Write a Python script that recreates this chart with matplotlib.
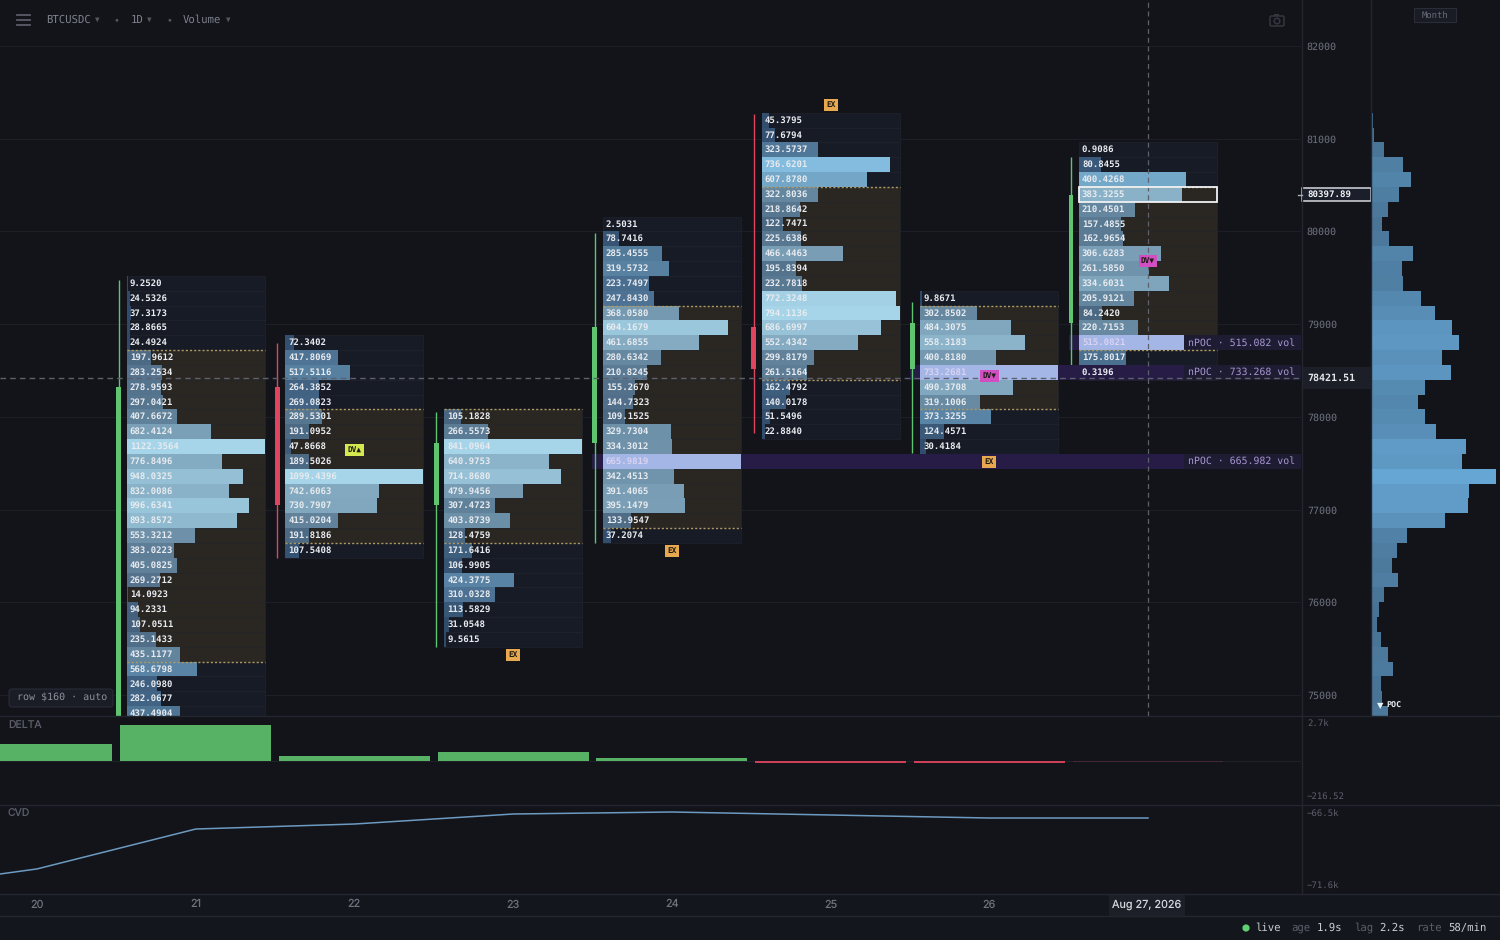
import numpy as np
import matplotlib
matplotlib.use("Agg")
import matplotlib.pyplot as plt
from matplotlib.patches import Rectangle, FancyBboxPatch, Circle
from matplotlib.transforms import blended_transform_factory

plt.rcParams["text.hinting"] = "no_hinting"

W, H = 1500, 940
MONO = "DejaVu Sans Mono"
SANS = "Inter"

BG = "#12141a"
LINE = "#23262f"
GRID = "#1c1f27"
TICK = "#6e727e"
DIM = "#5c5f6b"
GREEN = "#5fc46f"
RED = "#e0455f"

ROW = 160
DAY_WIDTH = 0.87

days = [21, 22, 23, 24, 25, 26, 27]
top_price = [79440, 78800, 78000, 80080, 81200, 79280, 80880]
# first and last row of the value area per day
va_rows = [(5, 25), (5, 13), (0, 8), (6, 20), (5, 17), (1, 7), (3, 13)]

vols_21 = [9.2520, 24.5326, 37.3173, 28.8665, 24.4924, 197.9612, 283.2534, 278.9593, 297.0421, 407.6672,
           682.4124, 1122.3564, 776.8496, 948.0325, 832.0086, 996.6341, 893.8572, 553.3212, 383.0223, 405.0825,
           269.2712, 14.0923, 94.2331, 107.0511, 235.1433, 435.1177, 568.6798, 246.0980, 282.0677, 437.4904]
vols_22 = [72.3402, 417.8069, 517.5116, 264.3852, 269.0823, 289.5301, 191.0952, 47.8668, 189.5026, 1099.4396,
           742.6063, 730.7907, 415.0204, 191.8186, 107.5408]
vols_23 = [105.1828, 266.5573, 841.0964, 640.9753, 714.8680, 479.9456, 307.4723, 403.8739, 128.4759, 171.6416,
           106.9905, 424.3775, 310.0328, 113.5829, 31.0548, 9.5615]
vols_24 = [2.5031, 78.7416, 285.4555, 319.5732, 223.7497, 247.8430, 368.0580, 604.1679, 461.6855, 280.6342,
           210.8245, 155.2670, 144.7323, 109.1525, 329.7304, 334.3012, 665.9819, 342.4513, 391.4065, 395.1479,
           133.9547, 37.2074]
vols_25 = [45.3795, 77.6794, 323.5737, 736.6201, 607.8780, 322.8036, 218.8642, 122.7471, 225.6386, 466.4463,
           195.8394, 232.7818, 772.3248, 794.1136, 686.6997, 552.4342, 299.8179, 261.5164, 162.4792, 140.0178,
           51.5496, 22.8840]
vols_26 = [9.8671, 302.8502, 484.3075, 558.3183, 400.8180, 733.2681, 490.3708, 319.1006, 373.3255, 124.4571,
           30.4184]
vols_27 = [0.9086, 80.8455, 400.4268, 383.3255, 210.4501, 157.4855, 162.9654, 306.6283, 261.5850, 334.6031,
           205.9121, 84.2420, 220.7153, 515.0821, 175.8017, 0.3196]
all_vols = [vols_21, vols_22, vols_23, vols_24, vols_25, vols_26, vols_27]

# open, high, low, close
opens = [74700, 78320, 77050, 77720, 78970, 78516, 79012]
highs = [79480, 78800, 78052, 79983, 81267, 79239, 80803]
lows = [74700, 76477, 75517, 76639, 77826, 77610, 78548]
closes = [78320, 77050, 77718, 78969, 78516, 79012, 80393]

npoc_day = [24, 26, 27]
npoc_price = [77520, 78480, 78800]
npoc_vol = [665.982, 733.268, 515.082]

ex_days = [25, 24, 23, 26]
ex_prices = [81364, 76553, 75431, 77513]
dv_days = [22, 26, 27]
dv_prices = [77642, 78440, 79681]
dv_labels = ["DV▲", "DV▼", "DV▼"]

delta_days = [20, 21, 22, 23, 24, 25, 26, 27]
delta_vals = [1280, 2700, 370, 640, 220, -180, -130, -60]

cvd_days = [19, 20, 21, 22, 23, 24, 25, 26, 27]
cvd_vals = [-72.0, -70.48, -67.69, -67.34, -66.64, -66.5, -66.71, -66.92, -66.92]

month_prices = [81200 - i * ROW for i in range(41)]
month_vols = [1.5, 3, 12.7, 32, 40, 28, 17, 11, 18, 42, 31, 32, 50, 63.5, 81, 87.5, 71, 80, 54, 47, 53.5, 64.5,
              95, 91, 124.5, 98, 97, 74, 36, 26, 20.5, 27, 12.7, 8.3, 5.7, 9.7, 17, 22, 9.7, 11, 17]

price_ticks = [82000, 81000, 80000, 79000, 78000, 77000, 76000, 75000]
day_ticks = [20, 21, 22, 23, 24, 25, 26]
last_price = 80397.89
cross_price = 78421.51
cross_day = 27


def px_axes(x0, y0, x1, y1, **kw):
    a = fig.add_axes([x0 / W, 1 - y1 / H, (x1 - x0) / W, (y1 - y0) / H], **kw)
    a.set_facecolor(BG)
    for s in a.spines.values():
        s.set_visible(False)
    return a


def mix(c0, c1, t):
    return tuple((a + (b - a) * t) / 255 for a, b in zip(c0, c1))


def bar_color(ratio, in_va):
    if in_va:
        return mix((62, 88, 116), (166, 212, 232), ratio ** 1.1)
    return mix((46, 72, 104), (138, 198, 232), ratio ** 1.1)


fig = plt.figure(figsize=(W / 100, H / 100), dpi=100, facecolor=BG)

xlim = (20 - 37 / 158.71, 20 + (1301 - 37) / 158.71)
ax = px_axes(0, 0, 1301, 716)
ax.set_xlim(*xlim)
ax.set_ylim(82000 - 670 / 0.09271, 82000 + 46 / 0.09271)

delta_ax = px_axes(0, 716, 1301, 805)
cvd_ax = px_axes(0, 805, 1301, 894)
month_ax = px_axes(1371, 0, 1500, 716)
chrome = fig.add_axes([0, 0, 1, 1], zorder=10)
chrome.set_xlim(0, W)
chrome.set_ylim(H, 0)
chrome.axis("off")
chrome.patch.set_alpha(0)

# main pane
ax.set_xticks([])
ax.yaxis.tick_right()
ax.set_yticks(price_ticks)
ax.set_yticklabels([str(p) for p in price_ticks], family=MONO, fontsize=7.2, color=TICK)
ax.tick_params(axis="y", length=0, pad=4.2)
ax.grid(True, axis="y", color=GRID, lw=0.8, zorder=0)
ax.set_axisbelow(True)

bar_w = DAY_WIDTH
for day, top, vols, (va0, va1), o, h, l, c in zip(days, top_price, all_vols, va_rows, opens, highs, lows, closes):
    vols = np.array(vols)
    prices = top - np.arange(len(vols)) * ROW
    left = day - bar_w / 2
    in_va = (np.arange(len(vols)) >= va0) & (np.arange(len(vols)) <= va1)
    bg = ["#2a2723" if v else "#171b25" for v in in_va]
    ax.barh(prices, bar_w, left=left, height=ROW, color=bg, edgecolor="#23262e", lw=0.4, zorder=1)
    ratio = vols / vols.max()
    colors = [bar_color(r, v) for r, v in zip(ratio, in_va)]
    poc = int(np.argmax(vols))
    if day in npoc_day:
        colors[poc] = "#a4b6e6"
    ax.barh(prices, ratio * bar_w, left=left, height=ROW, color=colors, lw=0, zorder=3)
    for i, (p, v) in enumerate(zip(prices, vols)):
        col = "#d9d2f2" if (day in npoc_day and i == poc) else "#e8ebef"
        ax.text(left + 0.019, p, f"{v:.4f}", family=MONO, weight="bold", fontsize=6.5, color=col,
                va="center", ha="left", zorder=6, clip_on=True)
    va_top = prices[va0] + ROW / 2
    va_bot = prices[va1] - ROW / 2
    ax.plot([left, left + bar_w], [va_top, va_top], color="#b09a62", lw=1, ls=(0, (1.5, 1.5)), zorder=5)
    ax.plot([left, left + bar_w], [va_bot, va_bot], color="#b09a62", lw=1, ls=(0, (1.5, 1.5)), zorder=5)

    # candle
    col = GREEN if c >= o else RED
    cx = day - 0.485
    ax.plot([cx, cx], [l, h], color=col, lw=1, zorder=4, solid_capstyle="butt")
    ax.bar(cx, abs(c - o), 0.031, bottom=min(o, c), color=col, zorder=4)

# naked POC bands
for day, price, vol in zip(npoc_day, npoc_price, npoc_vol):
    start = day - 0.5
    end = day + bar_w / 2
    ax.barh(price, end - start - bar_w, left=start, height=ROW, color="#261c46", zorder=2)
    ax.barh(price, xlim[1] - end, left=end, height=ROW, color="#261c46", zorder=4)
    pill = 20 + (1184 - 37) / 158.71
    ax.barh(price, xlim[1] - pill, left=pill, height=ROW, color="#1e1c32", zorder=4.5)
    ax.text(20 + (1188 - 37) / 158.71, price, f"nPOC · {vol:.3f} vol", family=MONO, fontsize=7.1, color="#a896d2",
            va="center", ha="left", zorder=7)

tag_style = dict(family=MONO, weight="bold", fontsize=5.6, color="#1c1a14", ha="center", va="center", zorder=8)
for d, p in zip(ex_days, ex_prices):
    ax.text(d, p, "EX", bbox=dict(boxstyle="square,pad=0.3", fc="#e8a84f", ec="none"), **tag_style)
for d, p, s in zip(dv_days, dv_prices, dv_labels):
    fc = "#d4e84f" if "▲" in s else "#d14fc0"
    ax.text(d, p, s, bbox=dict(boxstyle="square,pad=0.3", fc=fc, ec="none"), **tag_style)

# current price row and crosshair
row_day = days.index(27)
ax.add_patch(Rectangle((27 - bar_w / 2, top_price[row_day] - 3.5 * ROW), bar_w, ROW, fc="none", ec="#f0f2f4",
                       lw=1.3, zorder=7))
ax.axhline(cross_price, color="#5e616b", lw=1, ls=(0, (4, 3)), zorder=6)
ax.axvline(cross_day, color="#5e616b", lw=0.9, ls=(0, (4, 3)), zorder=6)

# delta pane
delta_ax.set_xlim(*xlim)
delta_ax.set_ylim(-3300, 3375)
delta_colors = [GREEN if v > 0 else RED for v in delta_vals]
delta_bars = delta_ax.bar(delta_days, delta_vals, 0.95, color=delta_colors, alpha=0.9, zorder=2)
delta_bars[-1].set_alpha(0.2)
delta_ax.axhline(0, color="#1f2129", lw=0.8, zorder=1)
delta_ax.set_xticks([])
delta_ax.set_yticks([])

# cvd pane
cvd_ax.set_xlim(*xlim)
cvd_ax.set_ylim(-66.5 - 82 * 0.0699, -66.5 + 7 * 0.0699)
cvd_ax.plot(cvd_days, cvd_vals, color="#6d9ac0", lw=1.1, zorder=2)
cvd_ax.set_xticks([])
cvd_ax.set_yticks([])

# month profile
month_ax.set_xlim(0, 129)
month_ax.set_ylim(*ax.get_ylim())
month_ax.set_xticks([])
month_ax.set_yticks([])
month_max = max(month_vols)
month_colors = [mix((68, 108, 140), (102, 166, 212), (v / month_max) ** 0.8) for v in month_vols]
month_ax.barh(month_prices, month_vols, height=ROW, color=month_colors, lw=0)

# chrome
chrome.add_patch(Rectangle((0, 894), W, 46, fc="#14161d", ec="none"))
for y0 in [716, 805, 894, 916]:
    chrome.plot([0, W], [y0, y0], color=LINE, lw=1)
chrome.plot([1301.5, 1301.5], [0, 894], color=LINE, lw=1)
chrome.plot([1371, 1371], [0, 716], color=LINE, lw=1)

for y0 in [15, 20, 25]:
    chrome.plot([17, 30], [y0, y0], color="#5a5d68", lw=1.3)


def label(x, y, s, color=TICK, size=7.7, family=MONO, **kw):
    kw.setdefault("ha", "left")
    kw.setdefault("va", "center")
    chrome.text(x, y, s, color=color, fontsize=size, family=family, **kw)


label(46, 20, "BTCUSDC", "#7d818c")
label(95, 19.5, "▼", "#555862", 5.5)
label(116, 20, "•", "#555862", 7, ha="center")
label(131, 20, "1D", "#7d818c")
label(147, 19.5, "▼", "#555862", 5.5)
label(169, 20, "•", "#555862", 7, ha="center")
label(183, 20, "Volume", "#7d818c")
label(226, 19.5, "▼", "#555862", 5.5)

# camera icon
chrome.add_patch(FancyBboxPatch((1270, 16), 14, 10, boxstyle="round,pad=0,rounding_size=1.5", fc="none",
                                ec="#34373f", lw=1.1))
chrome.add_patch(Rectangle((1274, 14), 5, 2, fc="#34373f", ec="none"))
chrome.add_patch(Circle((1277, 21), 2.8, fc="none", ec="#34373f", lw=1.1))

chrome.add_patch(Rectangle((1414, 8), 42, 14, fc="#191c25", ec="#2a2d37", lw=0.8))
label(1435, 15, "Month", "#6c6f7a", 6.4, ha="center")

chrome.add_patch(FancyBboxPatch((9, 689), 104, 18, boxstyle="round,pad=0,rounding_size=3", fc="#1a1d26",
                                ec="#2a2d37", lw=0.8))
label(17, 698, "row $160 · auto", "#8d909a", 7.2)

label(8, 725, "DELTA", DIM, 7.5, SANS)
label(8, 814, "CVD", DIM, 7.5, SANS)
label(1307, 723, "2.7k", DIM, 6.5)
label(1307, 796, "−216.52", DIM, 6.5)
label(1307, 813, "−66.5k", DIM, 6.5)
label(1307, 885, "−71.6k", DIM, 6.5)

for d in day_ticks:
    label(37 + (d - 20) * 158.71, 904.5, str(d), TICK, 7.8, SANS, ha="center")
chrome.add_patch(Rectangle((1109, 895), 76, 21, fc="#1c1f28", ec="none"))
label(1147, 904.5, "Aug 27, 2026", "#d5d8dd", 7.8, SANS, ha="center")

# price boxes on the axis
to_chrome = blended_transform_factory(chrome.transData, ax.transData)
chrome.add_patch(Rectangle((1302, last_price - 72), 68.5, 144, transform=to_chrome, fc="#1b1f2b", ec="#d6d9de", lw=1.1))
chrome.plot([1298, 1302], [last_price, last_price], color="#a9adb5", lw=1, transform=to_chrome)
chrome.text(1307, last_price, f"{last_price:.2f}", transform=to_chrome, family=MONO, weight="bold", fontsize=6.6,
            color="#f0f2f4", va="center")
chrome.add_patch(Rectangle((1302, cross_price - 118), 69, 236, transform=to_chrome, fc="#1c1e28", ec="none"))
chrome.text(1307, cross_price, f"{cross_price:.2f}", transform=to_chrome, family=MONO, weight="bold", fontsize=7.2,
            color="#e4e6ea", va="center")

month_ax.text(6, 74880, "▼", fontsize=6, color="#e8f2fa", va="center", family="DejaVu Sans")
month_ax.text(15, 74880, "POC", fontsize=6, weight="bold", color="#e8ecf0", va="center", family=MONO)

# status bar
chrome.add_patch(Circle((1246, 928), 3.6, fc="#5fd070", ec="none"))
label(1255, 928, "live", "#c9ccd2")
label(1291, 928, "age", DIM)
label(1317, 928, "1.9s", "#c9ccd2")
label(1354, 928, "lag", DIM)
label(1379, 928, "2.2s", "#c9ccd2")
label(1416, 928, "rate", DIM)
label(1448, 928, "58/min", "#c9ccd2")

fig.savefig("out.png", dpi=100, facecolor=BG)
